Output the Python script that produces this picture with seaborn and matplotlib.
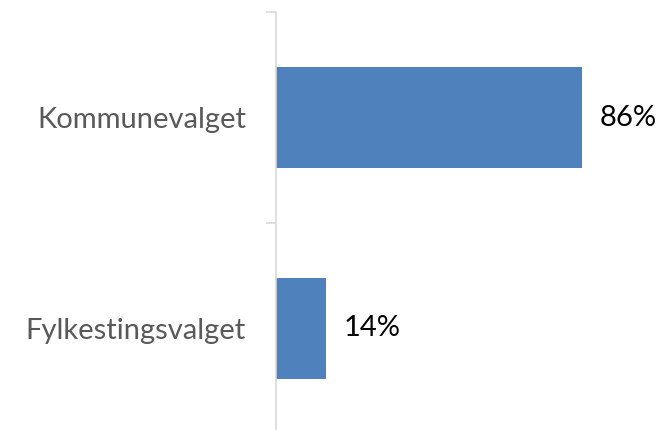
import matplotlib
matplotlib.use("Agg")
import matplotlib.pyplot as plt
import seaborn as sns
import pandas as pd

categories = ["Kommunevalget", "Fylkestingsvalget"]
values = [86, 14]
value_labels = ["86%", "14%"]

sns.set_style("white")
plt.rcParams['font.family'] = ['Lato', 'DejaVu Sans']

df = pd.DataFrame({"cat": categories, "val": values})

fig = plt.figure(figsize=(6.59, 4.30), dpi=100)
ax = fig.add_axes([276/659, 1 - 434/430, 355.8/659, 422/430])

sns.barplot(data=df, x="val", y="cat", orient="h", color="#4F81BD",
            saturation=1, width=0.48, ax=ax, edgecolor="none")

ax.set_xlim(0, 100)
ax.set_ylim(1.5, -0.5)
ax.set_xlabel("")
ax.set_ylabel("")
ax.set_xticks([])

for s in ["top", "right", "bottom"]:
    ax.spines[s].set_visible(False)
ax.spines["left"].set_color("#D9D9D9")
ax.spines["left"].set_linewidth(1.2)

ax.set_yticks([-0.5, 0.5, 1.5])
ax.set_yticklabels([])
ax.tick_params(axis="y", which="major", left=True, length=7.2, width=1.2, color="#D9D9D9")
ax.set_yticks([0, 1], minor=True)
ax.set_yticklabels(categories, minor=True)
ax.tick_params(axis="y", which="minor", length=0, pad=21.6, labelsize=21, labelcolor="#595959")

for i, (v, lab) in enumerate(zip(values, value_labels)):
    ax.annotate(lab, (v, i), xytext=(13, 0), textcoords="offset points",
                va="center", ha="left", fontsize=21, color="black")

fig.savefig("out.png", dpi=100)
